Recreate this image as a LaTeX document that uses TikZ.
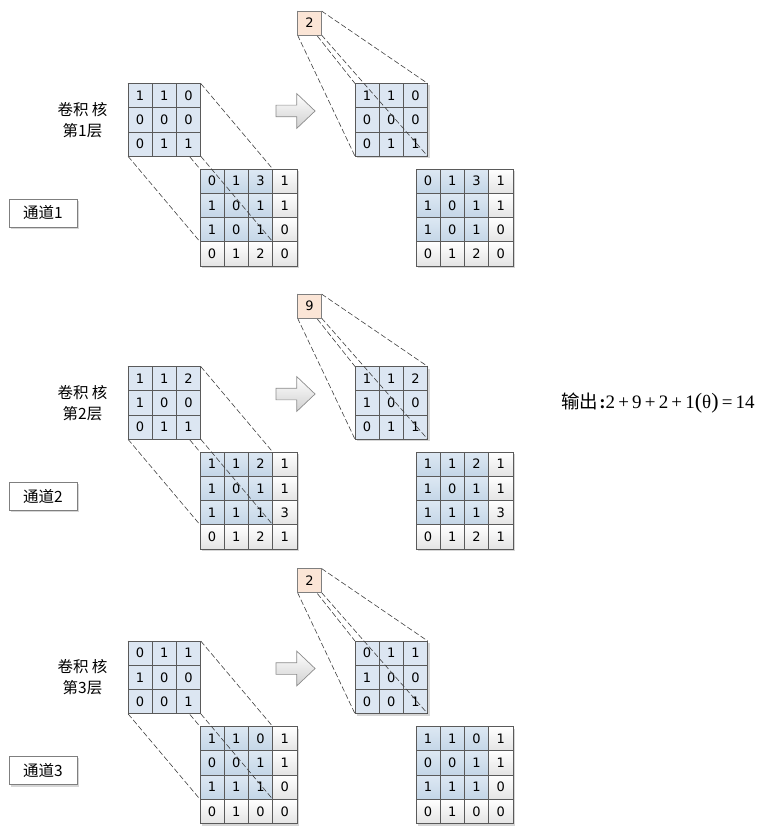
\documentclass[tikz,border=0pt]{standalone}
\usepackage{fontspec}
\setmainfont{Liberation Serif}
\newfontfamily\cjk{Noto Sans CJK SC}
\newfontfamily\numfont{DejaVu Sans}
\usetikzlibrary{shapes.arrows,calc}
\pgfdeclarelayer{shadow}
\pgfdeclarelayer{lines}
\pgfdeclarelayer{top}
\pgfsetlayers{shadow,main,lines,top}
\definecolor{cellline}{HTML}{5A5A5A}
\definecolor{kblue}{HTML}{DCE6F2}
\definecolor{gbluetop}{HTML}{DDE8F3}
\definecolor{gbluebot}{HTML}{C4D6E7}
\definecolor{gwhitebot}{HTML}{E4E4E4}
\definecolor{outfill}{HTML}{FBE5D6}
\definecolor{dashc}{HTML}{404040}
\definecolor{boxline}{HTML}{7F7F7F}
\definecolor{arrowline}{HTML}{8C8C8C}
\definecolor{arrowbot}{HTML}{D0D0D0}
\tikzset{
  cellbase/.style={draw=cellline, line width=0.7pt, minimum size=24.25pt, inner sep=0pt, outer sep=0pt,
    font=\numfont\fontsize{13}{13}\selectfont, text=black},
  kcell/.style={cellbase, fill=kblue},
  bcell/.style={cellbase, top color=gbluetop, bottom color=gbluebot},
  wcell/.style={cellbase, top color=white, bottom color=gwhitebot},
  dline/.style={draw=dashc, line width=0.6pt, dash pattern=on 5.5pt off 2.5pt},
  outbox/.style={draw=boxline, line width=0.7pt, fill=outfill, minimum size=24pt, inner sep=0pt, outer sep=0pt,
    font=\numfont\fontsize{13}{13}\selectfont},
  chanbox/.style={draw=boxline, line width=0.8pt, fill=white, minimum width=68pt, minimum height=28pt,
    inner sep=0pt, font=\cjk\fontsize{15.5}{15.5}\selectfont},
  lbl/.style={align=center, inner sep=0pt, font=\cjk\fontsize{15.5}{21}\selectfont},
  bigarrow/.style={single arrow, draw=arrowline, line width=0.7pt, top color=white, bottom color=arrowbot,
    minimum height=39pt, minimum width=34pt, inner sep=5.5pt, single arrow head extend=11.5pt,
    single arrow tip angle=87, single arrow head indent=0pt},
  shadowfill/.style={fill=black, opacity=0.16}
}
% #1 name, #2 x0, #3 y0, #4 size n, #5 values
\newcommand\cellgrid[5]{%
  \foreach \v [count=\i from 0] in {#5} {%
    \pgfmathtruncatemacro\rr{div(\i,#4)}%
    \pgfmathtruncatemacro\cc{mod(\i,#4)}%
    \ifnum#4=3
      \node[kcell] (#1-\rr-\cc) at ({#2+\cc*24.25+12.125},{#3+\rr*24.25+12.125}) {\v};
    \else
      \ifnum\rr<3
        \ifnum\cc<3
          \node[bcell] (#1-\rr-\cc) at ({#2+\cc*24.25+12.125},{#3+\rr*24.25+12.125}) {\v};
        \else
          \node[wcell] (#1-\rr-\cc) at ({#2+\cc*24.25+12.125},{#3+\rr*24.25+12.125}) {\v};
        \fi
      \else
        \node[wcell] (#1-\rr-\cc) at ({#2+\cc*24.25+12.125},{#3+\rr*24.25+12.125}) {\v};
      \fi
    \fi
  }%
}
% #1 id, #2 dy, #3 kernel, #4 grid, #5 output, #6 layer
\newcommand\convsection[6]{%
  \node[lbl] (lab#1) at (82.5,{#2+120}) {卷积 核\\第#6层};
  \node[chanbox] (ch#1) at (43,{#2+213}) {通道#6};
  \cellgrid{g#1}{200}{#2+169}{4}{#4}
  \cellgrid{rk#1}{355}{#2+83.5}{3}{#3}
  \cellgrid{rg#1}{416}{#2+169}{4}{#4}
  \node[bigarrow] (arr#1) at (292.5,{#2+111}) {};
  \begin{pgfonlayer}{top}
    \cellgrid{k#1}{128}{#2+83.5}{3}{#3}
    \node[outbox] (o#1) at (309.5,{#2+23}) {#5};
  \end{pgfonlayer}
  \begin{pgfonlayer}{shadow}
    \fill[shadowfill] ($(ch#1.north west)+(2,2)$) rectangle ($(ch#1.south east)+(2,2)$);
    \fill[shadowfill] ($(g#1-0-0.north west)+(2,2)$) rectangle ($(g#1-3-3.south east)+(2,2)$);
    \fill[shadowfill] ($(rg#1-0-0.north west)+(2,2)$) rectangle ($(rg#1-3-3.south east)+(2,2)$);
    \fill[shadowfill] ($(rk#1-0-0.north west)+(2,2)$) rectangle ($(rk#1-2-2.south east)+(2,2)$);
  \end{pgfonlayer}
  \begin{pgfonlayer}{lines}
    \draw[dline] (k#1-0-0.north west) -- (g#1-0-0.north west);
    \draw[dline] (k#1-0-2.north east) -- (g#1-0-2.north east);
    \draw[dline] (k#1-2-0.south west) -- (g#1-2-0.south west);
    \draw[dline] (k#1-2-2.south east) -- (g#1-2-2.south east);
    \draw[dline] (o#1.north west) -- (rk#1-0-0.north west);
    \draw[dline] (o#1.north east) -- (rk#1-0-2.north east);
    \draw[dline] (o#1.south west) -- (rk#1-2-0.south west);
    \draw[dline] (o#1.south east) -- (rk#1-2-2.south east);
  \end{pgfonlayer}
}
\begin{document}
\begin{tikzpicture}[x=1pt,y=-1pt]
\useasboundingbox (0,0) rectangle (763,832);
\convsection{1}{0}{1,1,0,0,0,0,0,1,1}{0,1,3,1,1,0,1,1,1,0,1,0,0,1,2,0}{2}{1}
\convsection{2}{283}{1,1,2,1,0,0,0,1,1}{1,1,2,1,1,0,1,1,1,1,1,3,0,1,2,1}{9}{2}
\convsection{3}{557.5}{0,1,1,1,0,0,0,0,1}{1,1,0,1,0,0,1,1,1,1,1,0,0,1,0,0}{2}{3}
\node[inner sep=0pt] (formula) at (658,403) {{\cjk\fontsize{18.5}{18.5}\selectfont 输出}\hspace{1pt}{\fontsize{19}{19}\selectfont\textbf{:}2\,+\,9\,+\,2\,+\,1{\fontsize{22}{22}\selectfont(}θ{\fontsize{22}{22}\selectfont)}\,=\,14}};
\end{tikzpicture}
\end{document}
